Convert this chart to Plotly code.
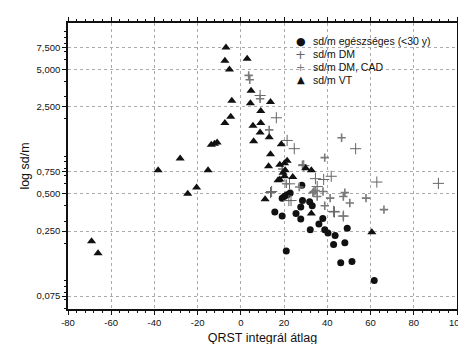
import plotly.graph_objects as go

# ---- data ----
healthy_x = [19.1, 20.2, 21.4, 22.8, 28.2, 28.5, 31.8, 33.0, 27.7, 15.7, 19.1, 25.5, 27.7, 37.9,
             36.1, 32.1, 38.8, 40.3, 49.2, 43.6, 42.9, 48.1, 21.0, 46.2, 51.4, 61.7]
healthy_y = [0.459, 0.476, 0.49, 0.506, 0.585, 0.44, 0.43, 0.40, 0.39, 0.356, 0.331, 0.346, 0.312, 0.316,
             0.285, 0.256, 0.256, 0.241, 0.264, 0.230, 0.195, 0.201, 0.173, 0.139, 0.142, 0.10]

dm_x = [53.1, 24.7, 21.4, 14.2, 13.7, 22.2, 23.2, 42.9, 47.4, 34.5, 41.8, 62.9, 91.4, 16.4, 8.9,
        38.3, 43.3, 35.3, 22.5, 29.1]
dm_y = [1.15, 1.15, 1.34, 0.52, 0.51, 0.44, 0.44, 0.36, 0.33, 0.66, 0.69, 0.62, 0.605, 2.04, 3.08,
        0.65, 0.356, 0.57, 0.60, 0.84]

cad_x = [3.6, 4.1, 8.9, 46.6, 38.8, 48.1, 57.9, 66.2, 19.1, 33.3, 50.4, 35.3, 13.1, 28.5, 27.0,
         38.0, 41.3, 38.8, 47.4, 34.5, 33.8, 21.0, 47.4]
cad_y = [4.47, 4.13, 2.9, 1.41, 0.975, 0.51, 0.46, 0.372, 0.79, 0.51, 0.42, 0.475, 1.63, 0.855, 0.566,
         0.52, 0.46, 0.40, 0.475, 0.53, 0.52, 0.60, 0.331]

vt_x = [-69.1, -66.1, -38.3, -28.1, -24.6, -20.5, -15.2, -13.7, -12.2, -11.0, -7.4, -6.9, -7.4, -5.3,
        -4.7, -4.2, 2.9, 4.7, 4.4, 5.6, 5.9, 8.9, 9.2, 9.2, 13.7, 13.1, 13.7, 12.8, 11.2, 17.2,
        18.7, 18.0, 20.2, 21.4, 20.5, 19.5, 20.2, 18.0, 24.0, 30.0, 32.6, 32.6, 60.6]
vt_y = [0.207, 0.166, 0.77, 0.96, 0.50, 0.56, 0.77, 1.24, 1.26, 1.29, 1.85, 7.5, 5.86, 4.98,
        2.08, 2.79, 6.1, 3.37, 2.67, 1.76, 1.32, 1.55, 2.31, 1.85, 2.73, 1.42, 1.04, 0.83, 0.45, 0.64,
        1.25, 0.853, 0.879, 0.918, 0.77, 0.735, 0.69, 0.65, 0.68, 0.80, 0.77, 0.346, 0.245]

x_ticks = [-80, -60, -40, -20, 0, 20, 40, 60, 80, 100]
y_ticks = [0.075, 0.25, 0.5, 0.75, 2.5, 5.0, 7.5]
y_tick_labels = ["0,075", "0,250", "0,500", "0,750", "2,500", "5,000", "7,500"]
y_minor = [0.06, 0.07, 0.08, 0.09, 0.1, 0.2, 0.3, 0.4, 0.6, 0.7, 0.8, 0.9, 1, 2, 3, 4, 6, 7, 8, 9, 10]

legend_labels = ["sd/m egészséges (<30 y)", "sd/m DM", "sd/m DM, CAD", "sd/m VT"]

FONT = "Liberation Sans, Arial, sans-serif"

fig = go.Figure()
fig.add_trace(go.Scatter(x=healthy_x, y=healthy_y, mode="markers", name=legend_labels[0],
                         marker=dict(symbol="circle", size=7, color="#111111")))
fig.add_trace(go.Scatter(x=dm_x, y=dm_y, mode="markers", name=legend_labels[1],
                         marker=dict(symbol="cross-thin-open", size=8, color="#666666",
                                     line=dict(width=1, color="#666666"))))
fig.add_trace(go.Scatter(x=cad_x, y=cad_y, mode="markers", name=legend_labels[2],
                         marker=dict(symbol="cross-thin-open", size=6, color="#7a7a7a",
                                     line=dict(width=1.6, color="#7a7a7a"))))
fig.add_trace(go.Scatter(x=vt_x, y=vt_y, mode="markers", name=legend_labels[3],
                         marker=dict(symbol="triangle-up", size=8, color="#111111")))

# compact legend (text + key glyphs)
legend_keys = ["●", "+", "+", "▲"]
key_colors = ["#111111", "#666666", "#7a7a7a", "#111111"]
key_sizes = [11, 13, 11, 10]
for i, (lab, key) in enumerate(zip(legend_labels, legend_keys)):
    yy = 0.936 - i * 0.045
    fig.add_annotation(xref="paper", yref="paper", x=0.598, y=yy, text=key, showarrow=False,
                       xanchor="center", yanchor="middle",
                       font=dict(family="DejaVu Sans", size=key_sizes[i], color=key_colors[i]))
    fig.add_annotation(xref="paper", yref="paper", x=0.625, y=yy, text=lab, showarrow=False,
                       xanchor="left", yanchor="middle",
                       font=dict(family=FONT, size=10.5, color="#111111"))

fig.update_layout(
    width=466, height=344,
    margin=dict(l=60, r=9, t=13, b=38),
    paper_bgcolor="white", plot_bgcolor="white",
    showlegend=False,
    font=dict(family=FONT, color="#111111"),
)
fig.update_xaxes(
    range=[-80, 100], tickvals=x_ticks, ticktext=[str(v) for v in x_ticks],
    showgrid=True, gridcolor="#aaaaaa", griddash="dot", gridwidth=1,
    showline=True, linecolor="#111111", linewidth=1.5, mirror="ticks",
    ticks="outside", ticklen=4, tickcolor="#111111",
    minor=dict(dtick=4, ticks="outside", ticklen=2, tickcolor="#111111", showgrid=False),
    tickfont=dict(size=9.5, color="#111111"), zeroline=False,
    title=dict(text="QRST integrál átlag", font=dict(size=12.5, color="#111111"), standoff=6),
)
fig.update_yaxes(
    type="log", range=[-1.229, 1.072], tickvals=y_ticks, ticktext=y_tick_labels,
    showgrid=True, gridcolor="#aaaaaa", griddash="dot", gridwidth=1,
    showline=True, linecolor="#111111", linewidth=1.5, mirror="ticks",
    ticks="outside", ticklen=4, tickcolor="#111111",
    minor=dict(tickvals=y_minor, ticks="outside", ticklen=2, tickcolor="#111111", showgrid=False),
    tickfont=dict(size=9.5, color="#111111"), zeroline=False,
    title=dict(text="log sd/m", font=dict(size=12.5, color="#111111"), standoff=4),
)

fig.write_html("out.html")
